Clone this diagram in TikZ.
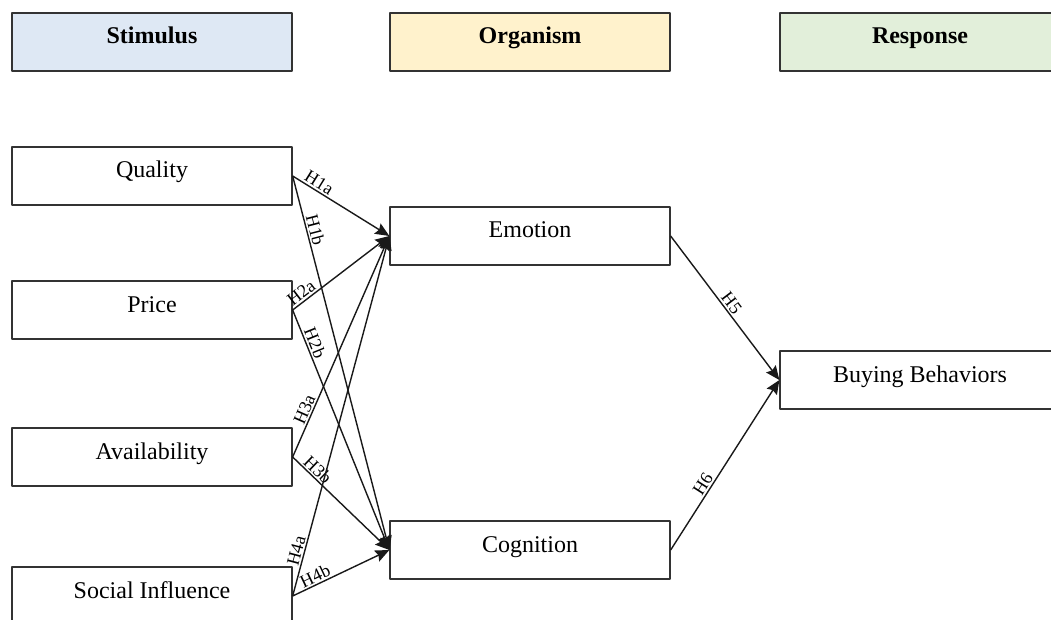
\documentclass[tikz,border=0pt]{standalone}
\usepackage{fontspec}
\setmainfont{Liberation Serif}
\usetikzlibrary{arrows.meta}
\definecolor{stimblue}{HTML}{DEE8F4}
\definecolor{orgyellow}{HTML}{FFF2CC}
\definecolor{respgreen}{HTML}{E2EFDA}
\begin{document}
\begin{tikzpicture}[x=1pt,y=-1pt,>={Stealth[length=14pt,width=12pt,inset=2pt]},
    line join=round,
    box/.style={draw=black!80,line width=1.3pt,minimum width=280pt,minimum height=58pt,
        inner sep=0pt,text height=17pt,text depth=13pt,font=\fontsize{24}{28}\selectfont},
    head/.style={box,font=\fontsize{24}{28}\selectfont\bfseries},
    link/.style={->,line width=1.4pt,draw=black!90},
    hyp/.style={font=\fontsize{18}{20}\selectfont,sloped,above,inner sep=1.5pt}]
    \useasboundingbox (0,0) rectangle (1051,620);
    % headers
    \node[head,fill=stimblue] (stim) at (152,42) {Stimulus};
    \node[head,fill=orgyellow] (org) at (530,42) {Organism};
    \node[head,fill=respgreen] (resp) at (920,42) {Response};
    % stimulus boxes
    \node[box] (quality) at (152,176) {Quality};
    \node[box] (price) at (152,310) {Price};
    \node[box] (avail) at (152,457) {Availability};
    \node[box] (social) at (152,596) {Social Influence};
    % organism boxes
    \node[box] (emotion) at (530,236) {Emotion};
    \node[box] (cognition) at (530,550) {Cognition};
    % response box
    \node[box] (buying) at (920,380) {Buying Behaviors};
    % hypotheses
    \draw[link] (quality.east) -- node[hyp,pos=0.23]{H1a} (emotion.west);
    \draw[link] (quality.east) -- node[hyp,pos=0.15]{H1b} (cognition.west);
    \draw[link] (price.east) -- node[hyp,pos=0.14]{H2a} (emotion.west);
    \draw[link] (price.east) -- node[hyp,pos=0.15]{H2b} (cognition.west);
    \draw[link] (avail.east) -- node[hyp,pos=0.2]{H3a} (emotion.west);
    \draw[link] (avail.east) -- node[hyp,pos=0.2]{H3b} (cognition.west);
    \draw[link] (social.east) -- node[hyp,pos=0.12]{H4a} (emotion.west);
    \draw[link] (social.east) -- node[hyp,pos=0.27]{H4b} (cognition.west);
    \draw[link] (emotion.east) -- node[hyp,pos=0.5]{H5} (buying.west);
    \draw[link] (cognition.east) -- node[hyp,pos=0.36]{H6} (buying.west);
\end{tikzpicture}
\end{document}
